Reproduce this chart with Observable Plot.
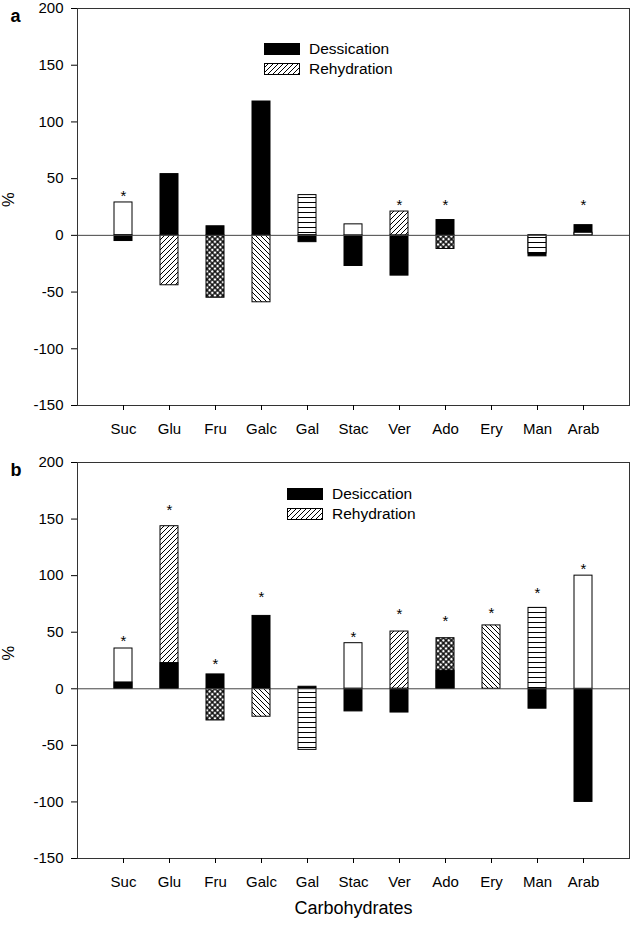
<!DOCTYPE html>
<html><head><meta charset="utf-8">
<script src="https://cdn.jsdelivr.net/npm/d3@7"></script>
<script src="https://cdn.jsdelivr.net/npm/@observablehq/plot@0.6"></script>
<style>
body{margin:0;background:#fff;font-family:"Liberation Sans",Arial,sans-serif;}
#wrap{position:relative;width:631px;height:926px;}
#wrap svg.plot{display:block}
.leg{position:absolute;font-size:15.5px;display:flex;align-items:center;white-space:nowrap;height:12px;color:#000}
.leg svg{margin-right:9px;display:block}
</style></head><body>
<svg width="0" height="0" style="position:absolute"><defs>
<pattern id="fwd" width="5" height="5" patternUnits="userSpaceOnUse"><rect width="5" height="5" fill="#fff"/><path d="M0,5L5,0M-1,1L1,-1M4,6L6,4" stroke="#000" stroke-width="1"/></pattern>
<pattern id="back" width="5" height="5" patternUnits="userSpaceOnUse"><rect width="5" height="5" fill="#fff"/><path d="M0,0L5,5M-1,4L1,6M4,-1L6,1" stroke="#000" stroke-width="1"/></pattern>
<pattern id="cross" width="3.8" height="3.8" patternUnits="userSpaceOnUse" patternTransform="rotate(45)"><rect width="3.8" height="3.8" fill="#fff"/><line x1="1.9" y1="-1" x2="1.9" y2="5" stroke="#000" stroke-width="1.4"/><line x1="-1" y1="1.9" x2="5" y2="1.9" stroke="#000" stroke-width="1.4"/></pattern>
<pattern id="horiz" width="5" height="5" patternUnits="userSpaceOnUse"><rect width="5" height="5" fill="#fff"/><line x1="-1" y1="2.5" x2="6" y2="2.5" stroke="#000" stroke-width="1"/></pattern>
</defs></svg>
<div id="wrap"></div>
<script>
// ---- data ----
const carbs = ["Suc","Glu","Fru","Galc","Gal","Stac","Ver","Ado","Ery","Man","Arab"];
const yTicks = [-150,-100,-50,0,50,100,150,200];

// panel a
const desA   = [-5, 54, 8, 118, -6, -27, -35.5, 13.5, null, -18.5, 9];
const rehA   = [29, -44, -55, -59, 35.5, 9.7, 21, -12, null, -16, 2.3];
const starA  = [38, null, null, null, null, null, 30, 30, null, null, 30];

// panel b
const desB   = [5.6, 22.7, 12.7, 64.4, 1.8, -20, -21, 16, null, -17.6, -100];
const rehB   = [35.6, 143.7, -28, -24.7, -54, 40.3, 50.6, 44.7, 56, 71.5, 100];
const starB  = [45, 161, 25, 84, null, 49, 69, 63, 69.5, 87.5, 108.5];

// ---- styles ----
const patternCycle = ["#fff", "url(#fwd)", "url(#cross)", "url(#back)", "url(#horiz)"];
const FONT = "Liberation Sans, Arial, sans-serif";

function panel({des, reh, star, letter, height, marginTop, marginBottom, xlabel}) {
  const rows = [];
  carbs.forEach((c, i) => {
    if (des[i] != null) rows.push({carb: c, v: des[i], fill: "#000"});
    if (reh[i] != null) rows.push({carb: c, v: reh[i], fill: patternCycle[i % patternCycle.length]});
  });
  rows.sort((a, b) => Math.abs(b.v) - Math.abs(a.v));
  const stars = carbs.map((c, i) => ({carb: c, y: star[i]})).filter(d => d.y != null);
  const marks = [
    Plot.barY(rows, {x: "carb", y1: 0, y2: "v", fill: "fill", stroke: "#000", strokeWidth: 1}),
    Plot.ruleY([0], {stroke: "#444", strokeWidth: 1}),
    Plot.frame({stroke: "#333", strokeWidth: 1}),
    Plot.axisY({ticks: yTicks, tickFormat: d => String(d), tickSize: 6, tickPadding: 8, fontSize: 15, label: null}),
    Plot.axisX({tickSize: 5, tickPadding: 13, fontSize: 15, label: null}),
    Plot.text(stars, {x: "carb", y: "y", text: () => "*", fontSize: 15, dy: 3.5}),
    Plot.text([letter], {text: d => d, frameAnchor: "top-left", dx: -67, dy: 1, fontSize: 18, fontWeight: "bold"}),
    Plot.text(["%"], {text: d => d, frameAnchor: "left", dx: -69, rotate: -90, fontSize: 16.5})
  ];
  if (xlabel) marks.push(Plot.text([xlabel], {text: d => d, frameAnchor: "bottom", dy: 55, fontSize: 18}));
  const svg = Plot.plot({
    width: 631, height, marginTop, marginBottom, marginLeft: 77, marginRight: 2,
    style: {fontFamily: FONT, background: "#fff", color: "#000", overflow: "visible"},
    x: {domain: carbs, paddingInner: 0.61, paddingOuter: 0.805, axis: null},
    y: {domain: [-150, 200], axis: null},
    color: {type: "identity"},
    marks
  });
  svg.classList.add("plot");
  return svg;
}

const wrap = document.getElementById("wrap");
wrap.appendChild(panel({des: desA, reh: rehA, star: starA, letter: "a", height: 455, marginTop: 8, marginBottom: 50}));
wrap.appendChild(panel({des: desB, reh: rehB, star: starB, letter: "b", height: 471, marginTop: 7, marginBottom: 68, xlabel: "Carbohydrates"}));

function legend(left, top, items) {
  items.forEach((it, k) => {
    const d = document.createElement("div");
    d.className = "leg";
    d.style.left = left + "px";
    d.style.top = (top + k * 20) + "px";
    d.innerHTML = `<svg width="36" height="12"><rect x="0.5" y="0.5" width="35" height="11" fill="${it.fill}" stroke="#000"/></svg><span>${it.label}</span>`;
    wrap.appendChild(d);
  });
}
legend(264, 43, [{fill: "#000", label: "Dessication"}, {fill: "url(#fwd)", label: "Rehydration"}]);
legend(287, 488, [{fill: "#000", label: "Desiccation"}, {fill: "url(#fwd)", label: "Rehydration"}]);
</script>
</body></html>
